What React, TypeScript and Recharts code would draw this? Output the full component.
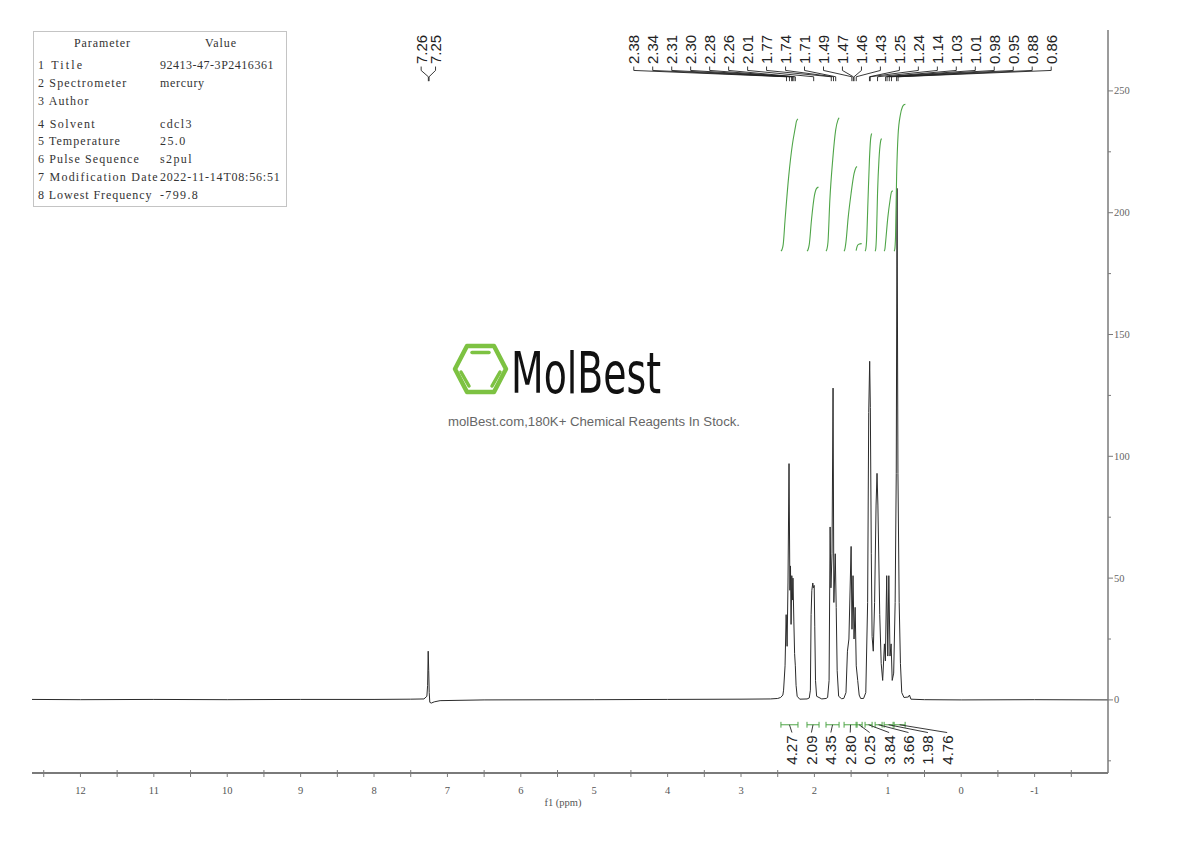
import React from "react";
import { ComposedChart, Line, Scatter, XAxis, YAxis } from "recharts";

// spectrum trace: [ppm, intensity]
const spectrum: [number, number][] = [
  [12.66, 0.2], [12.0, 0.1], [11.0, 0.2], [10.0, 0.1], [9.0, 0.2], [8.0, 0.2],
  [7.5, 0.3], [7.32, 0.4], [7.28, 1.5], [7.27, 6], [7.262, 20], [7.255, 12],
  [7.248, 3], [7.24, -1.0], [7.22, -1.3], [7.18, -0.8], [7.1, -0.3], [6.5, 0],
  [5.0, 0.1], [4.0, 0.2], [3.0, 0.3], [2.6, 0.4], [2.5, 0.6], [2.46, 1],
  [2.43, 2], [2.42, 4], [2.4, 14], [2.385, 35], [2.372, 22], [2.36, 48],
  [2.346, 97], [2.334, 45], [2.326, 55], [2.318, 31], [2.308, 51], [2.3, 41],
  [2.292, 50], [2.28, 32], [2.27, 19], [2.26, 14], [2.25, 6], [2.235, 1.5],
  [2.2, 0.3], [2.1, 0.4], [2.07, 0.8], [2.055, 4], [2.045, 35], [2.035, 45],
  [2.022, 48], [2.015, 46], [2.003, 47], [1.995, 30], [1.985, 8], [1.97, 1.5],
  [1.9, 0.4], [1.84, 0.6], [1.82, 1], [1.8, 8], [1.786, 71], [1.775, 46],
  [1.76, 60], [1.746, 128], [1.735, 40], [1.716, 60], [1.703, 38], [1.69, 12],
  [1.67, 1.5], [1.63, 0.5], [1.6, 0.6], [1.57, 3], [1.55, 20], [1.53, 25],
  [1.5, 63], [1.488, 29], [1.474, 51], [1.46, 25], [1.445, 38], [1.43, 14],
  [1.41, 8], [1.39, 2], [1.37, 0.6], [1.33, 0.6], [1.3, 3], [1.275, 40],
  [1.26, 118], [1.247, 139], [1.238, 120], [1.225, 60], [1.214, 26], [1.198, 20],
  [1.18, 40], [1.16, 80], [1.147, 93], [1.135, 80], [1.11, 35], [1.09, 15],
  [1.07, 8], [1.046, 23], [1.033, 16], [1.015, 51], [1.0, 18], [0.986, 51],
  [0.97, 18], [0.955, 23], [0.94, 8], [0.92, 11], [0.9, 40], [0.885, 93],
  [0.874, 210], [0.862, 93], [0.845, 40], [0.828, 15], [0.81, 3], [0.78, 1],
  [0.72, 1.2], [0.705, 2], [0.685, 0.3], [0.5, 0.1], [0, 0], [-1, 0.1], [-2, 0],
];

// peak picking: shift and where its label sits (ppm)
const peakShifts = [
  7.26, 7.25, 2.38, 2.34, 2.31, 2.3, 2.28, 2.26, 2.01, 1.77, 1.74, 1.71,
  1.49, 1.47, 1.46, 1.43, 1.25, 1.24, 1.14, 1.03, 1.01, 0.98, 0.95, 0.88, 0.86,
];
const peakLabelPos = [
  7.358, 7.162, 4.461, 4.203, 3.944, 3.686, 3.427, 3.169, 2.91, 2.652, 2.393,
  2.135, 1.876, 1.618, 1.359, 1.101, 0.842, 0.584, 0.325, 0.067, -0.192,
  -0.45, -0.709, -0.967, -1.226,
];

// integrals
const integralRanges: [number, number][] = [
  [2.456, 2.224], [2.101, 1.937], [1.842, 1.664], [1.596, 1.419], [1.432, 1.35],
  [1.31, 1.214], [1.173, 1.078], [1.05, 0.928], [0.914, 0.764],
];
const integralValues = ["4.27", "2.09", "4.35", "2.80", "0.25", "3.84", "3.66", "1.98", "4.76"];
const integralLabelPos = [2.306, 2.041, 1.776, 1.512, 1.247, 0.982, 0.718, 0.453, 0.191];
const integralCurves: [number, number][][] = [
  [[2.456, 184.2], [2.44, 185], [2.425, 187], [2.4, 197], [2.35, 215], [2.3, 228], [2.26, 235], [2.245, 237.5], [2.225, 238.5]],
  [[2.1, 184.2], [2.085, 185], [2.07, 187], [2.04, 197], [2.0, 207], [1.97, 210], [1.945, 210.5]],
  [[1.842, 184.2], [1.83, 185], [1.815, 188], [1.79, 205], [1.75, 222], [1.71, 234], [1.68, 238], [1.664, 239]],
  [[1.596, 184.2], [1.585, 185], [1.57, 188], [1.54, 198], [1.5, 208], [1.46, 216], [1.435, 218.5], [1.419, 219]],
  [[1.432, 184.4], [1.42, 186], [1.4, 187], [1.38, 187.2], [1.356, 187.3]],
  [[1.31, 184.2], [1.3, 185], [1.29, 188], [1.27, 205], [1.25, 222], [1.235, 230], [1.225, 232], [1.218, 232.5]],
  [[1.173, 184.2], [1.165, 185], [1.155, 190], [1.14, 208], [1.12, 222], [1.1, 229], [1.09, 230.2], [1.082, 230.4]],
  [[1.05, 184.2], [1.04, 185], [1.03, 188], [1.0, 198], [0.97, 205], [0.95, 208.5], [0.932, 209]],
  [[0.914, 184.2], [0.905, 185], [0.895, 190], [0.88, 215], [0.86, 232], [0.83, 240], [0.8, 243.5], [0.78, 244.3], [0.76, 244.5]],
];

const xTicks = [
  -1.5, -1, -0.5, 0, 0.5, 1, 1.5, 2, 2.5, 3, 3.5, 4, 4.5, 5, 5.5, 6, 6.5, 7,
  7.5, 8, 8.5, 9, 9.5, 10, 10.5, 11, 11.5, 12, 12.5,
];
const yTicks = [-25, 0, 25, 50, 75, 100, 125, 150, 175, 200, 225, 250];

const params: [string, string][] = [
  ["1 Title", "92413-47-3P2416361"],
  ["2 Spectrometer", "mercury"],
  ["3 Author", ""],
  ["4 Solvent", "cdcl3"],
  ["5 Temperature", "25.0"],
  ["6 Pulse Sequence", "s2pul"],
  ["7 Modification Date", "2022-11-14T08:56:51"],
  ["8 Lowest Frequency", "-799.8"],
];
const paramRowY = [69, 87, 105, 128, 145, 163, 181, 199];

const GREEN = "#4fa548";
const AXIS = "#7a7a7a";
const SERIF = "'Liberation Serif', 'DejaVu Serif', serif";
const SANS = "'Liberation Sans', Arial, sans-serif";

const spectrumData = spectrum.map(([x, y]) => ({ x, y }));

const peakLinks = peakShifts.flatMap((p, i) => [
  { x: peakLabelPos[i], y: 260 },
  { x: peakLabelPos[i], y: 258.4 },
  { x: p, y: 255.8 },
  { x: p, y: 254 },
  { x: p, y: null },
]);
const peakLabels = peakShifts.map((p, i) => ({ x: peakLabelPos[i], y: 261, label: p.toFixed(2) }));

const bracketData = integralRanges.flatMap(([a, b]) => [
  { x: a, y: -9 }, { x: a, y: -11.4 }, { x: a, y: null },
  { x: a, y: -10.2 }, { x: b, y: -10.2 }, { x: b, y: null },
  { x: b, y: -9 }, { x: b, y: -11.4 }, { x: b, y: null },
]);
const stemData = integralRanges.flatMap(([a, b], i) => [
  { x: (a + b) / 2, y: -10.2 },
  { x: integralLabelPos[i], y: -13.4 },
  { x: integralLabelPos[i], y: null },
]);
const integralLabels = integralValues.map((v, i) => ({ x: integralLabelPos[i], y: -14.6, label: v }));

function XTick({ x, y, payload }: any) {
  const v = payload.value as number;
  const major = Number.isInteger(v);
  return (
    <g>
      <line x1={x} x2={x} y1={major ? y : y - 3} y2={y + 4} stroke={AXIS} strokeWidth={1} />
      {major && (
        <text x={x} y={y + 21} textAnchor="middle" fontFamily={SERIF} fontSize={10.5} fill="#555">
          {v}
        </text>
      )}
    </g>
  );
}

function YTick({ x, y, payload }: any) {
  const v = payload.value as number;
  const major = v % 50 === 0;
  return (
    <g>
      <line x1={x} x2={x + (major ? 5 : 3)} y1={y} y2={y} stroke={AXIS} strokeWidth={1} />
      {major && (
        <text x={x + 6} y={y + 3.5} textAnchor="start" fontFamily={SERIF} fontSize={10.5} fill="#666">
          {v}
        </text>
      )}
    </g>
  );
}

const rotatedLabel =
  (anchor: "start" | "end") =>
  ({ cx, cy, payload }: { cx?: number; cy?: number; payload?: { label: string } }) => (
    <text
      x={cx}
      y={cy}
      transform={`rotate(-90 ${cx} ${cy})`}
      textAnchor={anchor}
      dominantBaseline="central"
      fontFamily={SANS}
      fontSize={15}
      fill="#222"
    >
      {payload?.label}
    </text>
  );

function Overlay() {
  return (
    <svg width={1190} height={841} style={{ position: "absolute", left: 0, top: 0, pointerEvents: "none" }}>
      {/* parameter table */}
      <rect x={33.5} y={31.5} width={253} height={175} fill="#fff" stroke="#c4c4c4" />
      <g fontFamily={SERIF} fontSize={12} fill="#333">
        <text x={74} y={47} textLength={56} lengthAdjust="spacing">Parameter</text>
        <text x={205} y={47} textLength={31} lengthAdjust="spacing">Value</text>
        {params.map(([k, v], i) => (
          <g key={k}>
            <text x={38} y={paramRowY[i]} textLength={k.length * 6.3} lengthAdjust="spacing">{k}</text>
            {v && (
              <text x={160} y={paramRowY[i]} textLength={v.length * 6.3} lengthAdjust="spacing">{v}</text>
            )}
          </g>
        ))}
      </g>

      {/* watermark */}
      <g fill="none" stroke="#7dc242" strokeLinejoin="round" strokeLinecap="round">
        <polygon points="455,369 467,346 494,346 506,369 494,392 467,392" strokeWidth={4.5} />
        <line x1={472} y1={352.5} x2={489} y2={352.5} strokeWidth={3.5} />
        <line x1={461} y1={372} x2={469} y2={386} strokeWidth={3.5} />
        <line x1={500} y1={372} x2={492} y2={386} strokeWidth={3.5} />
      </g>
      <text
        x={511}
        y={393}
        fontFamily="'DejaVu Sans Condensed', 'DejaVu Sans', sans-serif"
        fontSize={57}
        fill="#111"
        textLength={150}
        lengthAdjust="spacingAndGlyphs"
      >
        MolBest
      </text>
      <text x={448} y={425.5} fontFamily={SANS} fontSize={12.5} fill="#666" textLength={292} lengthAdjust="spacingAndGlyphs">
        molBest.com,180K+ Chemical Reagents In Stock.
      </text>

      <text x={563} y={806} textAnchor="middle" fontFamily={SERIF} fontSize={10.5} fill="#555">
        f1 (ppm)
      </text>
    </svg>
  );
}

export default function App() {
  return (
    <div style={{ position: "absolute", left: 0, top: 0, width: 1190, height: 841, background: "#fff" }}>
      <ComposedChart width={1190} height={841} margin={{ top: 30, right: 32, bottom: 28, left: 32 }}>
        <XAxis
          type="number"
          dataKey="x"
          domain={[-2, 12.66]}
          reversed
          allowDataOverflow
          ticks={xTicks}
          interval={0}
          tick={<XTick />}
          tickLine={false}
          tickSize={0}
          tickMargin={0}
          height={40}
          axisLine={{ stroke: AXIS, strokeWidth: 2 }}
        />
        <YAxis
          type="number"
          dataKey="y"
          orientation="right"
          domain={[-30, 275]}
          allowDataOverflow
          ticks={yTicks}
          interval={0}
          tick={<YTick />}
          tickLine={false}
          tickSize={0}
          tickMargin={0}
          width={50}
          axisLine={{ stroke: AXIS, strokeWidth: 1.5 }}
        />
        <Line
          data={spectrumData}
          dataKey="y"
          type="linear"
          stroke="#2b2b2b"
          strokeWidth={1}
          dot={false}
          isAnimationActive={false}
        />
        {integralCurves.map((c, i) => (
          <Line
            key={`int-${i}`}
            data={c.map(([x, y]) => ({ x, y }))}
            dataKey="y"
            type="monotone"
            stroke={GREEN}
            strokeWidth={1.1}
            dot={false}
            isAnimationActive={false}
          />
        ))}
        <Line
          data={peakLinks}
          dataKey="y"
          type="linear"
          stroke="#222"
          strokeWidth={0.9}
          dot={false}
          connectNulls={false}
          isAnimationActive={false}
        />
        <Line
          data={bracketData}
          dataKey="y"
          type="linear"
          stroke={GREEN}
          strokeWidth={1}
          dot={false}
          connectNulls={false}
          isAnimationActive={false}
        />
        <Line
          data={stemData}
          dataKey="y"
          type="linear"
          stroke="#222"
          strokeWidth={0.9}
          dot={false}
          connectNulls={false}
          isAnimationActive={false}
        />
        <Scatter data={peakLabels} dataKey="y" shape={rotatedLabel("start")} isAnimationActive={false} />
        <Scatter data={integralLabels} dataKey="y" shape={rotatedLabel("end")} isAnimationActive={false} />
      </ComposedChart>
      <Overlay />
    </div>
  );
}
